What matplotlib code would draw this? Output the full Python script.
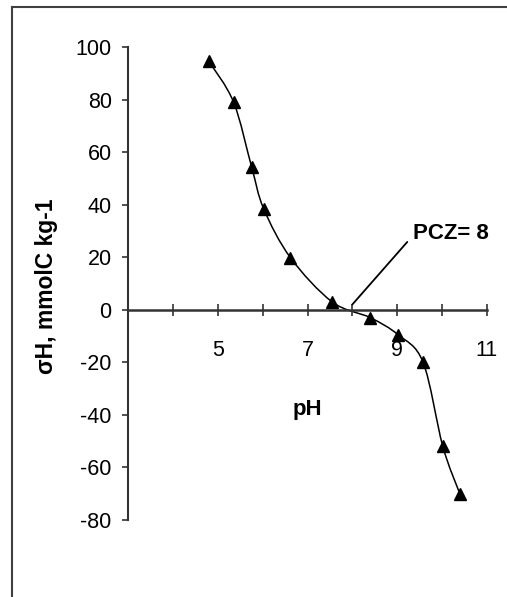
import numpy as np
import matplotlib
matplotlib.use('Agg')
from matplotlib import pyplot as plt
from matplotlib.path import Path
from matplotlib.patches import PathPatch
from matplotlib.lines import Line2D

# Surface charge titration curve
ph = [4.8, 5.35, 5.75, 6.02, 6.62, 7.55, 8.4, 9.02, 9.58, 10.02, 10.4]
sigma_h = [94.5, 79, 54.5, 38.5, 19.8, 3, -3, -9.5, -20, -52, -70]

pzc = 8
pzc_label = 'PCZ= 8'

x_ticks = list(range(3, 12))
x_tick_labels = ['', '', '5', '', '7', '', '9', '', '11']
y_ticks = list(range(-80, 101, 20))


# Smoothed curve through the points (Catmull-Rom style bezier segments)
def smooth_path(xs, ys):
    pts = np.column_stack([xs, ys]).astype(float)
    padded = np.vstack([pts[0], pts, pts[-1]])
    verts = [pts[0]]
    codes = [Path.MOVETO]
    for i in range(len(pts) - 1):
        p0, p1, p2, p3 = padded[i], padded[i + 1], padded[i + 2], padded[i + 3]
        verts += [p1 + (p2 - p0) / 6, p2 - (p3 - p1) / 6, p2]
        codes += [Path.CURVE4] * 3
    return Path(verts, codes)


plt.rcParams['font.family'] = ['Liberation Sans', 'DejaVu Sans']
plt.rcParams['axes.unicode_minus'] = False

fig = plt.figure(figsize=(5.07, 5.97), dpi=100)

# outer chart frame, only the left and top edges are in view
frame_x, frame_y = 12 / 507, 1 - 7 / 597
fig.add_artist(Line2D([frame_x, frame_x], [0, frame_y], color='#404040',
                      linewidth=1.5, transform=fig.transFigure))
fig.add_artist(Line2D([frame_x, 1], [frame_y, frame_y], color='#404040',
                      linewidth=1.5, transform=fig.transFigure))

ax = fig.add_axes([0.2531, 0.1290, 0.7069, 0.7923])
ax.set_xlim(3, 11)
ax.set_ylim(-80, 100)

for side in ['top', 'right']:
    ax.spines[side].set_visible(False)
ax.spines['bottom'].set_position(('data', 0))
ax.spines['bottom'].set_color('#333333')
ax.spines['left'].set_color('#333333')
ax.spines['bottom'].set_linewidth(1.8)
ax.spines['left'].set_linewidth(1.5)

ax.set_xticks(x_ticks)
ax.set_xticklabels(x_tick_labels)
ax.set_yticks(y_ticks)
ax.tick_params(axis='x', direction='inout', length=8, width=1.2,
               pad=18, labelsize=15.5, color='#333333')
ax.tick_params(axis='y', direction='out', length=4, width=1.2,
               pad=8, labelsize=15.5, color='#333333')

ax.add_patch(PathPatch(smooth_path(ph, sigma_h), fill=False,
                       edgecolor='black', linewidth=1.1))
ax.plot(ph, sigma_h, linestyle='none', marker='^', markersize=9,
        color='black')

ax.annotate(pzc_label, xy=(pzc, 2), xytext=(9.35, 29),
            fontsize=16, fontweight='bold', ha='left', va='center',
            arrowprops=dict(arrowstyle='-', color='black', linewidth=1.3,
                            relpos=(0, 0.4), shrinkA=3, shrinkB=0))

ax.set_xlabel('pH', fontsize=16, fontweight='bold')
ax.xaxis.label.set_va('center')
ax.xaxis.set_label_coords(0.5, 0.233)

ax.set_ylabel('σH, mmolC kg-1', fontsize=16.5, fontweight='bold')
ax.yaxis.label.set_va('center')
ax.yaxis.set_label_coords(-0.227, 0.495)

fig.savefig('out.png', dpi=100)
